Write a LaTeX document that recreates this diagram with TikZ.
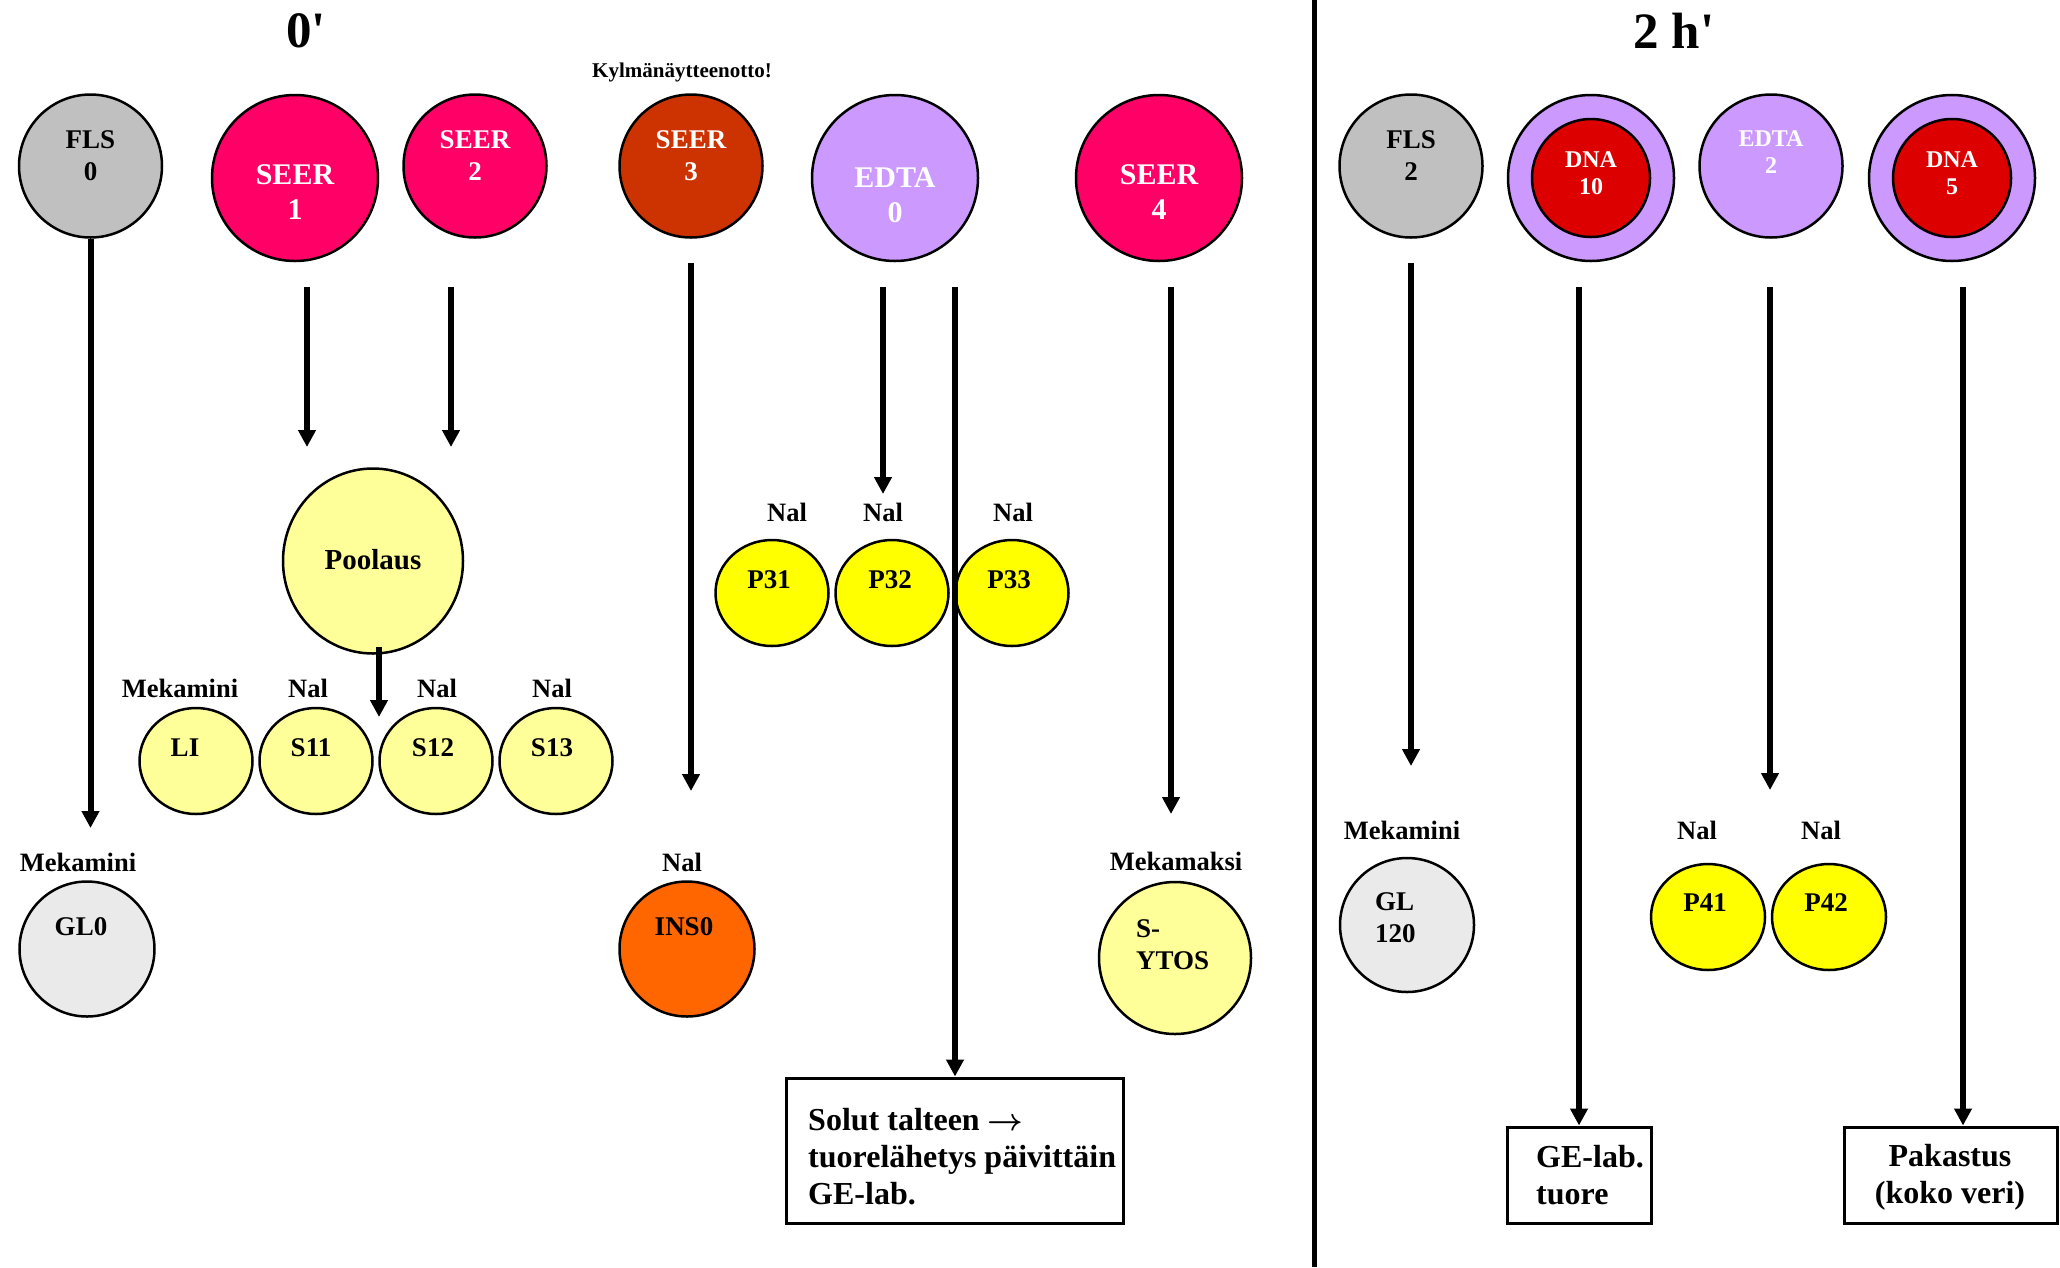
\documentclass[tikz,border=0pt]{standalone}
\usepackage{fontspec}
\usepackage{graphicx}
\setmainfont{Liberation Serif}
\usetikzlibrary{shapes.geometric,arrows.meta}
\definecolor{cgray}{HTML}{C0C0C0}
\definecolor{clight}{HTML}{EAEAEA}
\definecolor{cseer}{HTML}{FF0066}
\definecolor{cbrown}{HTML}{CC3300}
\definecolor{cedta}{HTML}{CC99FF}
\definecolor{cred}{HTML}{DD0000}
\definecolor{cpale}{HTML}{FFFF99}
\definecolor{cyel}{HTML}{FFFF00}
\definecolor{corange}{HTML}{FF6600}
\begin{document}
\begin{tikzpicture}[x=1pt,y=-1pt,
  circ/.style={ellipse, draw=black, line width=2.5pt, inner sep=0pt},
  bigc/.style={circ, minimum width=166pt, minimum height=166pt},
  midc/.style={circ, minimum width=143pt, minimum height=143pt},
  smallc/.style={circ, minimum width=113pt, minimum height=106pt},
  lowc/.style={circ, minimum width=135pt, minimum height=135pt},
  txt/.style={inner sep=0pt, align=center, font=\bfseries\fontsize{27}{32}\selectfont},
  bigtxt/.style={txt, font=\bfseries\fontsize{30}{35}\selectfont},
  smltxt/.style={txt, font=\bfseries\fontsize{24}{27}\selectfont},
  lbl/.style={inner sep=0pt, font=\bfseries\fontsize{26.5}{30}\selectfont},
  boxtxt/.style={inner sep=0pt, font=\bfseries\fontsize{32}{37}\selectfont},
  ttl/.style={inner sep=0pt, font=\bfseries\fontsize{51}{55}\selectfont},
  box/.style={draw=black, line width=3pt, inner sep=0pt},
  arr/.style={line width=6pt, -{Triangle[length=17pt,width=17pt]}},
  plain/.style={line width=6pt}
]
\useasboundingbox (0,0) rectangle (2060,1267);

% titles
\node[ttl] (t0) at (306,31) {0\textquotesingle};
\node[ttl] (t2) at (1674,31) {2 h\textquotesingle};
\node[inner sep=0pt, font=\bfseries\fontsize{21}{24}\selectfont] (kylm) at (682,72) {Kylmänäytteenotto!};

% divider
\coordinate (divtop) at (1314,0);
\coordinate (divbot) at (1314,1267);
\draw[line width=5pt] (divtop) -- (divbot);

% top row
\node[midc, fill=cgray] (fls0) at (90.5,166) {};
\node[txt] (fls0t) at (90.5,156) {FLS\\0};
\node[bigc, fill=cseer] (seer1) at (295,178) {};
\node[bigtxt, white] (seer1t) at (295,192.5) {SEER\\1};
\node[midc, fill=cseer] (seer2) at (475,166) {};
\node[txt, white] (seer2t) at (475,156) {SEER\\2};
\node[midc, fill=cbrown] (seer3) at (691,166) {};
\node[txt, white] (seer3t) at (691,156) {SEER\\3};
\node[bigc, fill=cedta] (edta0) at (895,178) {};
\node[bigtxt, white] (edta0t) at (895,195.5) {EDTA\\0};
\node[bigc, fill=cseer] (seer4) at (1159,178) {};
\node[bigtxt, white] (seer4t) at (1159,192.5) {SEER\\4};
\node[midc, fill=cgray] (fls2) at (1411,166) {};
\node[txt] (fls2t) at (1411,156) {FLS\\2};
\node[bigc, fill=cedta] (dna10o) at (1591,178) {};
\node[circ, fill=cred, minimum width=118pt, minimum height=118pt] (dna10) at (1591,178) {};
\node[smltxt, white] (dna10t) at (1591,173.5) {DNA\\10};
\node[midc, fill=cedta] (edta2) at (1771,166) {};
\node[smltxt, white] (edta2t) at (1771,152.5) {EDTA\\2};
\node[bigc, fill=cedta] (dna5o) at (1952,178) {};
\node[circ, fill=cred, minimum width=118pt, minimum height=118pt] (dna5) at (1952,178) {};
\node[smltxt, white] (dna5t) at (1952,173.5) {DNA\\5};

% Poolaus
\node[circ, fill=cpale, minimum width=180pt, minimum height=185pt] (pool) at (373,561) {};
\node[txt, font=\bfseries\fontsize{29}{33}\selectfont] (poolt) at (373,560) {Poolaus};

% S row
\node[smallc, fill=cpale] (li) at (196,761) {};
\node[smallc, fill=cpale] (s11) at (316,761) {};
\node[smallc, fill=cpale] (s12) at (436,761) {};
\node[smallc, fill=cpale] (s13) at (556,761) {};
\node[txt] (lit) at (185,748) {LI};
\node[txt] (s11t) at (311,748) {S11};
\node[txt] (s12t) at (433,748) {S12};
\node[txt] (s13t) at (552,748) {S13};
\node[lbl] (lmeka1) at (180,688) {Mekamini};
\node[lbl] (lnal11) at (308,688) {Nal};
\node[lbl] (lnal12) at (437,688) {Nal};
\node[lbl] (lnal13) at (552,688) {Nal};

% P3 row
\node[smallc, fill=cyel] (p31) at (772,593) {};
\node[smallc, fill=cyel] (p32) at (892,593) {};
\node[smallc, fill=cyel] (p33) at (1012,593) {};
\node[txt] (p31t) at (769,580) {P31};
\node[txt] (p32t) at (890,580) {P32};
\node[txt] (p33t) at (1009,580) {P33};
\node[lbl] (lnal31) at (787,512) {Nal};
\node[lbl] (lnal32) at (883,512) {Nal};
\node[lbl] (lnal33) at (1013,512) {Nal};

% bottom row left
\node[lowc, fill=clight] (gl0) at (87,949) {};
\node[txt] (gl0t) at (81,927) {GL0};
\node[lbl] (lmeka0) at (78,862) {Mekamini};
\node[lowc, fill=corange] (ins0) at (687,949) {};
\node[txt] (ins0t) at (684,927) {INS0};
\node[lbl] (lnal0) at (682,862) {Nal};
\node[circ, fill=cpale, minimum width=152pt, minimum height=152pt] (sytos) at (1175,958) {};
\node[txt, anchor=west, align=left] (sytost) at (1136,944.5) {S-\\YTOS};
\node[lbl] (lmaksi) at (1176,861) {Mekamaksi};

% right bottom
\node[lowc, fill=clight, minimum width=134pt, minimum height=134pt] (gl120) at (1407,925) {};
\node[txt, anchor=west, align=left] (gl120t) at (1375,917.5) {GL\\120};
\node[lbl] (lmeka2) at (1402,830) {Mekamini};
\node[smallc, fill=cyel, minimum width=114pt] (p41) at (1708,917) {};
\node[smallc, fill=cyel, minimum width=114pt] (p42) at (1829,917) {};
\node[txt] (p41t) at (1705,903) {P41};
\node[txt] (p42t) at (1826,903) {P42};
\node[lbl] (lnal41) at (1697,830) {Nal};
\node[lbl] (lnal42) at (1821,830) {Nal};

% boxes
\node[box, minimum width=337pt, minimum height=145pt] (solut) at (954.5,1150.5) {};
\node[boxtxt, anchor=west, align=left] (solutt) at (808,1157) {Solut talteen \scalebox{1.25}{\boldmath$\rightarrow$}\\tuorelähetys päivittäin\\GE-lab.};
\node[box, minimum width=144pt, minimum height=96pt] (ge) at (1579,1175) {};
\node[boxtxt, anchor=west, align=left] (get) at (1536,1175) {GE-lab.\\tuore};
\node[box, minimum width=213pt, minimum height=96pt] (pak) at (1950.5,1175) {};
\node[boxtxt, align=center] (pakt) at (1950,1177) {Pakastus\\(koko veri)};

% connector coordinates
\coordinate (a1s) at (307,287);  \coordinate (a1e) at (307,447);
\coordinate (a2s) at (451,287);  \coordinate (a2e) at (451,447);
\coordinate (a3s) at (691,263);  \coordinate (a3e) at (691,791);
\coordinate (a4s) at (883,287);  \coordinate (a4e) at (883,494);
\coordinate (a5s) at (955,287);
\coordinate (a6s) at (1171,287); \coordinate (a6e) at (1171,814);
\coordinate (a0e) at (90.5,828);
\coordinate (apos) at (379,647);
\coordinate (apoe) at (379,717);
\coordinate (b1s) at (1411,263); \coordinate (b1e) at (1411,766);
\coordinate (b2s) at (1579,287);
\coordinate (b3s) at (1770,287); \coordinate (b3e) at (1770,790);
\coordinate (b4s) at (1963,287);

% connectors
\draw[arr] (fls0.south) -- (a0e);
\draw[arr] (a1s) -- (a1e);
\draw[arr] (a2s) -- (a2e);
\draw[arr] (a3s) -- (a3e);
\draw[arr] (a4s) -- (a4e);
\draw[arr] (a5s) -- (a5s |- solut.north);
\draw[arr] (a6s) -- (a6e);
\draw[arr] (apos) -- (apoe);
\draw[arr] (b1s) -- (b1e);
\draw[arr] (b2s) -- (b2s |- ge.north);
\draw[arr] (b3s) -- (b3e);
\draw[arr] (b4s) -- (b4s |- pak.north);
\end{tikzpicture}
\end{document}
